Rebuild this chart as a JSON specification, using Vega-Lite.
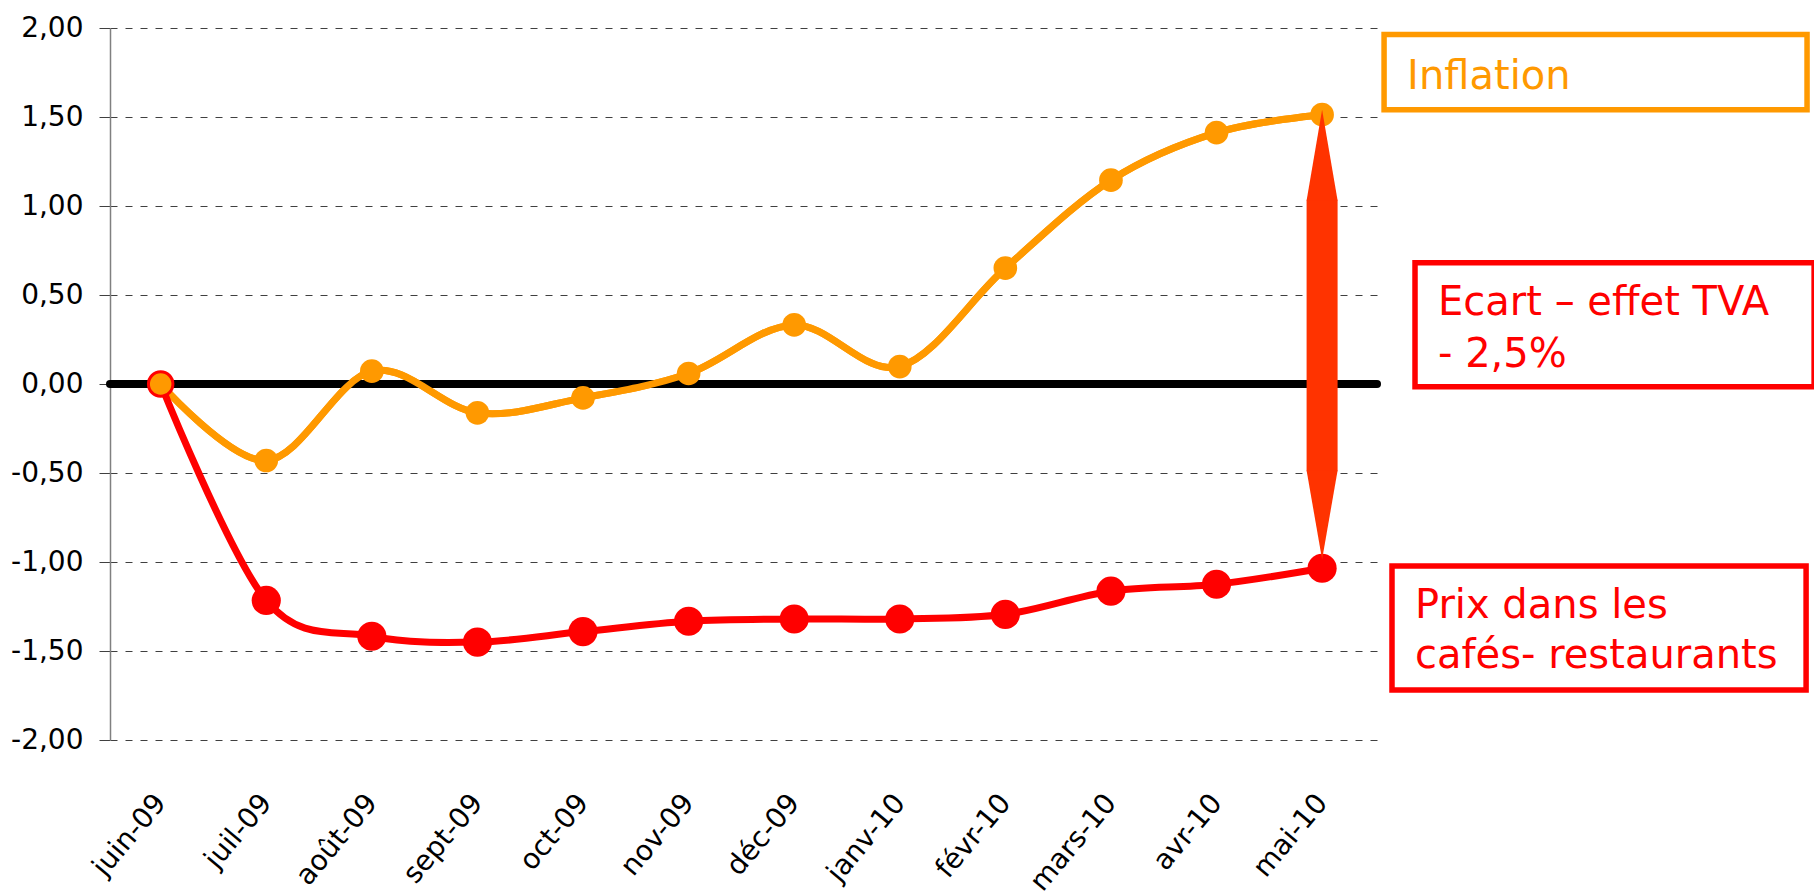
{
  "$schema": "https://vega.github.io/schema/vega-lite/v6.json",
  "autosize": {"type": "none"},
  "width": 1267,
  "height": 712,
  "padding": {"left": 110, "top": 28, "right": 437, "bottom": 152},
  "background": "white",
  "config": {"view": {"stroke": null}, "font": "DejaVu Sans"},
  "datasets": {
    "series": [
      {"i": 0, "mois": "juin-09", "inflation": 0.0, "cafes": 0.0},
      {"i": 1, "mois": "juil-09", "inflation": -0.43, "cafes": -1.216},
      {"i": 2, "mois": "août-09", "inflation": 0.072, "cafes": -1.417},
      {"i": 3, "mois": "sept-09", "inflation": -0.162, "cafes": -1.45},
      {"i": 4, "mois": "oct-09", "inflation": -0.078, "cafes": -1.391},
      {"i": 5, "mois": "nov-09", "inflation": 0.059, "cafes": -1.333},
      {"i": 6, "mois": "déc-09", "inflation": 0.332, "cafes": -1.32},
      {"i": 7, "mois": "janv-10", "inflation": 0.098, "cafes": -1.32},
      {"i": 8, "mois": "févr-10", "inflation": 0.651, "cafes": -1.294},
      {"i": 9, "mois": "mars-10", "inflation": 1.145, "cafes": -1.164},
      {"i": 10, "mois": "avr-10", "inflation": 1.412, "cafes": -1.125},
      {"i": 11, "mois": "mai-10", "inflation": 1.513, "cafes": -1.035}
    ]
  },
  "encoding": {
    "x": {"type": "quantitative"},
    "y": {"type": "quantitative"}
  },
  "layer": [
    {
      "data": {"name": "series"},
      "mark": {"type": "line", "color": "#FF9900", "strokeWidth": 7, "interpolate": "cardinal", "strokeJoin": "round", "strokeCap": "round"},
      "encoding": {
        "x": {
          "field": "i", "type": "quantitative",
          "scale": {"domain": [-0.48, 11.52], "nice": false, "zero": false},
          "axis": {
            "title": null, "domain": false, "ticks": false, "tickSize": 0, "grid": false,
            "values": [0, 1, 2, 3, 4, 5, 6, 7, 8, 9, 10, 11],
            "labelExpr": "['juin-09','juil-09','août-09','sept-09','oct-09','nov-09','déc-09','janv-10','févr-10','mars-10','avr-10','mai-10'][datum.value]",
            "labelAngle": -50, "labelAlign": "right", "labelBaseline": "middle",
            "labelFontSize": 28, "labelFont": "DejaVu Sans", "labelColor": "#000000",
            "labelPadding": 58, "labelOverlap": false, "labelFlush": false, "labelBound": false
          }
        },
        "y": {
          "field": "inflation", "type": "quantitative",
          "scale": {"domain": [-2, 2], "nice": false, "zero": false},
          "axis": {
            "title": null,
            "values": [-2, -1.5, -1, -0.5, 0, 0.5, 1, 1.5, 2],
            "labelExpr": "(datum.value < 0 ? '-' : '') + replace(format(abs(datum.value), '.2f'), '.', ',')",
            "labelFontSize": 28, "labelFont": "DejaVu Sans", "labelColor": "#000000",
            "labelPadding": 16, "tickSize": 11, "tickColor": "#404040", "tickWidth": 1,
            "domainColor": "#808080", "domainWidth": 1.5,
            "grid": true, "gridColor": "#404040", "gridWidth": 1, "gridDash": [7, 8],
            "labelFlush": false, "labelOverlap": false
          }
        }
      }
    },
    {
      "data": {"values": [{"zero": 0}]},
      "mark": {"type": "rule", "color": "#000000", "strokeWidth": 8, "strokeCap": "round"},
      "encoding": {"y": {"field": "zero", "type": "quantitative"}}
    },
    {
      "data": {"name": "series"},
      "mark": {"type": "line", "color": "#FF9900", "strokeWidth": 7, "interpolate": "cardinal", "strokeJoin": "round", "strokeCap": "round"},
      "encoding": {
        "x": {"field": "i", "type": "quantitative"},
        "y": {"field": "inflation", "type": "quantitative"}
      }
    },
    {
      "data": {"name": "series"},
      "mark": {"type": "line", "color": "#FF0000", "strokeWidth": 7, "interpolate": "cardinal", "strokeJoin": "round", "strokeCap": "round"},
      "encoding": {
        "x": {"field": "i", "type": "quantitative"},
        "y": {"field": "cafes", "type": "quantitative"}
      }
    },
    {
      "data": {"name": "series"},
      "transform": [{"filter": "datum.i > 0"}],
      "mark": {"type": "point", "filled": true, "color": "#FF9900", "size": 560, "opacity": 1},
      "encoding": {
        "x": {"field": "i", "type": "quantitative"},
        "y": {"field": "inflation", "type": "quantitative"}
      }
    },
    {
      "data": {"name": "series"},
      "transform": [{"filter": "datum.i > 0"}],
      "mark": {"type": "point", "filled": true, "color": "#FF0000", "size": 850, "opacity": 1},
      "encoding": {
        "x": {"field": "i", "type": "quantitative"},
        "y": {"field": "cafes", "type": "quantitative"}
      }
    },
    {
      "data": {"name": "series"},
      "transform": [{"filter": "datum.i == 0"}],
      "mark": {"type": "point", "shape": "circle", "fill": "#FF9900", "stroke": "#FF0000", "strokeWidth": 3, "size": 600, "opacity": 1, "fillOpacity": 1, "strokeOpacity": 1},
      "encoding": {
        "x": {"field": "i", "type": "quantitative"},
        "y": {"field": "inflation", "type": "quantitative"}
      }
    },
    {
      "data": {"values": [{"i": 11, "haut": 1.035, "bas": -0.49}]},
      "layer": [
        {
          "mark": {"type": "rule", "color": "#FF3300", "strokeWidth": 31, "strokeCap": "butt"},
          "encoding": {
            "x": {"field": "i", "type": "quantitative"},
            "y": {"field": "bas", "type": "quantitative"},
            "y2": {"field": "haut"}
          }
        },
        {
          "mark": {"type": "point", "shape": "M0,-5.8L1,0.05L-1,0.05Z", "filled": true, "color": "#FF3300", "size": 961, "opacity": 1},
          "encoding": {
            "x": {"field": "i", "type": "quantitative"},
            "y": {"field": "haut", "type": "quantitative"}
          }
        },
        {
          "mark": {"type": "point", "shape": "M-1,-0.05L1,-0.05L0,5.7Z", "filled": true, "color": "#FF3300", "size": 961, "opacity": 1},
          "encoding": {
            "x": {"field": "i", "type": "quantitative"},
            "y": {"field": "bas", "type": "quantitative"}
          }
        }
      ]
    },
    {
      "data": {"values": [{"x1": 11.587, "x2": 15.593, "y1": 1.541, "y2": 1.963}]},
      "mark": {"type": "rect", "fill": "#FFFFFF", "stroke": "#FF9900", "strokeWidth": 5.5},
      "encoding": {
        "x": {"field": "x1", "type": "quantitative"}, "x2": {"field": "x2"},
        "y": {"field": "y1", "type": "quantitative"}, "y2": {"field": "y2"}
      }
    },
    {
      "data": {"values": [{"x1": 11.88, "x2": 15.66, "y1": -0.016, "y2": 0.681}]},
      "mark": {"type": "rect", "fill": "#FFFFFF", "stroke": "#FF0000", "strokeWidth": 5.5},
      "encoding": {
        "x": {"field": "x1", "type": "quantitative"}, "x2": {"field": "x2"},
        "y": {"field": "y1", "type": "quantitative"}, "y2": {"field": "y2"}
      }
    },
    {
      "data": {"values": [{"x1": 11.662, "x2": 15.584, "y1": -1.719, "y2": -1.022}]},
      "mark": {"type": "rect", "fill": "#FFFFFF", "stroke": "#FF0000", "strokeWidth": 5.5},
      "encoding": {
        "x": {"field": "x1", "type": "quantitative"}, "x2": {"field": "x2"},
        "y": {"field": "y1", "type": "quantitative"}, "y2": {"field": "y2"}
      }
    },
    {
      "data": {"values": [{"texte": "Inflation", "x": 11.805, "y": 1.659}]},
      "mark": {"type": "text", "align": "left", "baseline": "alphabetic", "font": "DejaVu Sans", "fontSize": 40, "color": "#FF9900"},
      "encoding": {
        "x": {"field": "x", "type": "quantitative"},
        "y": {"field": "y", "type": "quantitative"},
        "text": {"field": "texte"}
      }
    },
    {
      "data": {"values": [
        {"texte": "Ecart – effet TVA", "x": 12.098, "y": 0.389},
        {"texte": "- 2,5%", "x": 12.098, "y": 0.097},
        {"texte": "Prix dans les", "x": 11.88, "y": -1.315},
        {"texte": "cafés- restaurants", "x": 11.88, "y": -1.596}
      ]},
      "mark": {"type": "text", "align": "left", "baseline": "alphabetic", "font": "DejaVu Sans", "fontSize": 40, "color": "#FF0000"},
      "encoding": {
        "x": {"field": "x", "type": "quantitative"},
        "y": {"field": "y", "type": "quantitative"},
        "text": {"field": "texte"}
      }
    }
  ]
}
